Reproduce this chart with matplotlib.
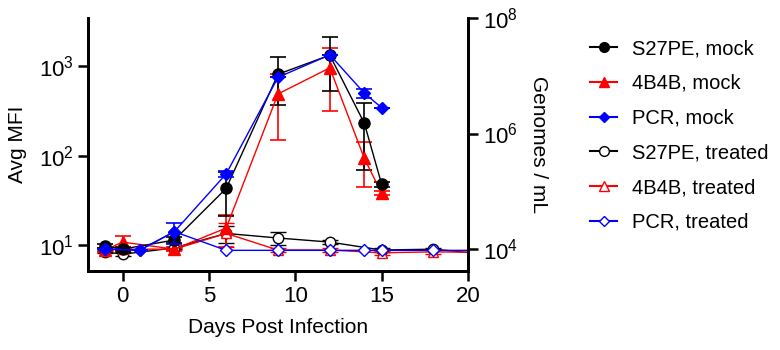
import numpy as np
import matplotlib
matplotlib.use('Agg')
import matplotlib.pyplot as plt
from matplotlib.lines import Line2D

plt.rcParams['font.family'] = ['Liberation Sans', 'DejaVu Sans']
plt.rcParams['mathtext.fontset'] = 'custom'
plt.rcParams['mathtext.rm'] = 'Liberation Sans'

# mock (left axis, MFI)
days_mock = [-1, 0, 3, 6, 9, 12, 14, 15]
s27pe_mock = [9.8, 9.0, 11.4, 43, 815, 1330, 230, 48]
s27pe_mock_sd = [0.5, 0.5, 0.8, 22, 450, 800, 160, 3]
b4b_mock = [8.8, 10.8, 9.0, 15.5, 490, 960, 93, 38]
b4b_mock_sd = [0.4, 1.8, 0.4, 6, 340, 640, 48, 2]

# PCR mock (right axis, genomes/mL)
pcr_days_mock = [-1, 1, 3, 6, 9, 12, 14, 15]
pcr_mock = [1.0e4, 9.6e3, 2.0e4, 2.0e5, 9.4e6, 2.3e7, 5.0e6, 2.8e6]
pcr_mock_sd = [0, 0, 8e3, 2.4e4, 0, 0, 0.85e6, 0]

# treated
days_trt = [-1, 0, 3, 6, 9, 12, 15, 18, 21]
s27pe_trt = [8.4, 7.9, 9.3, 13.5, 12, 10.8, 8.8, 9.0, 7.9]
s27pe_trt_sd = [0.3, 0.4, 0.3, 3, 2, 0.5, 0.4, 0.3, 0]
b4b_trt = [8.8, 9.0, 9.0, 13.5, 8.8, 8.8, 8.2, 8.4, 8.3]
b4b_trt_sd = [0.3, 0.3, 0.3, 4, 0.4, 0.4, 0.4, 0.4, 0]

pcr_days_trt = [-1, 1, 3, 6, 9, 12, 14, 15, 18, 21]
pcr_trt = [1.0e4, 9.6e3, 2.0e4, 9.5e3, 9.5e3, 9.5e3, 9.5e3, 9.5e3, 9.5e3, 9.5e3]

labels = ['S27PE, mock', '4B4B, mock', 'PCR, mock',
          'S27PE, treated', '4B4B, treated', 'PCR, treated']

fig = plt.figure(figsize=(7.8, 3.5), dpi=100)
ax = fig.add_axes([0.1128, 0.2257, 0.4872, 0.7229])
ax2 = ax.twinx()

lw = 1.0
eb = dict(capsize=6, elinewidth=1.2, capthick=1.2, lw=lw)

ax.errorbar(days_trt, s27pe_trt, yerr=s27pe_trt_sd, color='black', marker='o', ms=7.5,
            mfc='white', mec='black', mew=1.0, **eb)
ax.errorbar(days_trt, b4b_trt, yerr=b4b_trt_sd, color='red', marker='^', ms=7.5,
            mfc='white', mec='red', mew=1.0, **eb)
ax.errorbar(days_mock, b4b_mock, yerr=b4b_mock_sd, color='red', marker='^', ms=8, **eb)
ax.errorbar(days_mock, s27pe_mock, yerr=s27pe_mock_sd, color='black', marker='o', ms=8, **eb)

ax2.errorbar(pcr_days_trt, pcr_trt, color='blue', marker='D', ms=6,
             mfc='white', mec='blue', mew=1.0, **eb)
ax2.errorbar(pcr_days_mock, pcr_mock, yerr=pcr_mock_sd, color='blue', marker='D', ms=6, **eb)

ax.set_yscale('log')
ax2.set_yscale('log')
ax.set_xlim(-2, 20)
ax.set_ylim(10 ** 0.71, 10 ** 3.54)
ax2.set_ylim(10 ** 3.62, 1e8)
ax.set_xticks([0, 5, 10, 15, 20])
ax.set_yticks([10, 100, 1000])
ax2.set_yticks([1e4, 1e6, 1e8])
ax.minorticks_off()
ax2.minorticks_off()
ax.set_xticks([0, 5, 10, 15, 20])

for a in (ax, ax2):
    a.spines['top'].set_visible(False)
    for s in a.spines.values():
        s.set_linewidth(2)
    a.tick_params(width=1.8, length=7, labelsize=16)

ax.set_xlabel('Days Post Infection', fontsize=15, labelpad=8)
ax.set_ylabel('Avg MFI', fontsize=15, labelpad=8)
ax2.set_ylabel('Genomes / mL', fontsize=15, rotation=270, labelpad=22)

handles = [
    Line2D([], [], color='black', marker='o', ms=7),
    Line2D([], [], color='red', marker='^', ms=7),
    Line2D([], [], color='blue', marker='D', ms=5.5),
    Line2D([], [], color='black', marker='o', ms=7, mfc='white'),
    Line2D([], [], color='red', marker='^', ms=7, mfc='white'),
    Line2D([], [], color='blue', marker='D', ms=5.5, mfc='white'),
]
fig.legend(handles, labels, loc='upper left', bbox_to_anchor=(0.757, 0.888),
           frameon=False, fontsize=14.5, handlelength=1.3, handletextpad=0.75,
           labelspacing=0.78, borderpad=0, borderaxespad=0)

fig.savefig('out.png', dpi=100)
